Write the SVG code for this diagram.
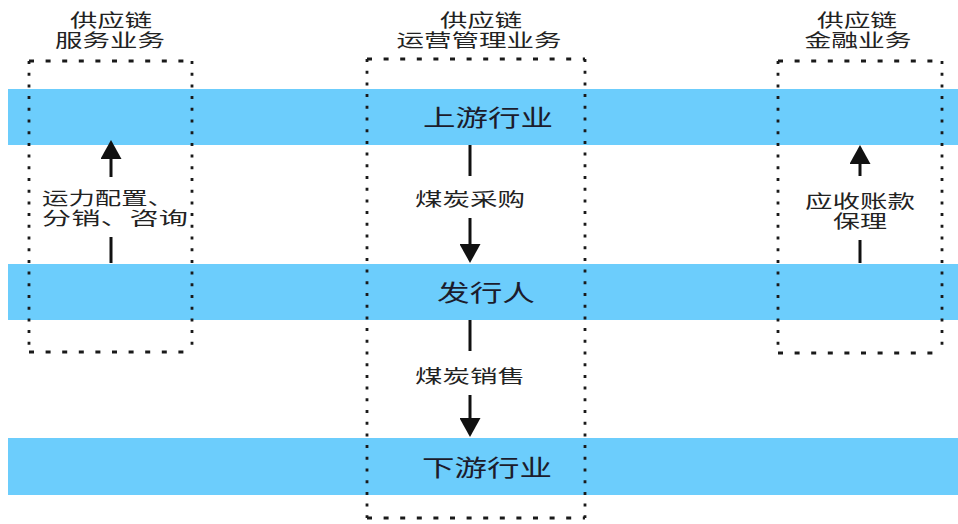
<svg xmlns="http://www.w3.org/2000/svg" width="958" height="524" viewBox="0 0 958 524">
  <style>
    .band { fill: #6ccdfc; }
    .frame { fill: none; stroke: #1a1a1a; stroke-width: 2.8; }
    .h { stroke-dasharray: 5 11.6; }
    .v { stroke-dasharray: 3 8.7; }
    .t { font-family: "Noto Sans CJK SC", "Noto Sans", sans-serif; fill: #222; }
    .title { font-size: 18px; }
    .bandtxt { font-size: 23px; fill: #1c1c2c; }
    .lbl { font-size: 18px; }
    .conn { stroke: #111; stroke-width: 3; fill: none; }
  </style>
  <defs>
    <marker id="head" viewBox="0 0 19 21" refX="0" refY="10.5" markerWidth="19" markerHeight="21" orient="auto" markerUnits="userSpaceOnUse">
      <path d="M0,0 L19,10.5 L0,21 z" fill="#111"/>
    </marker>
  </defs>

  <rect width="958" height="524" fill="#ffffff"/>

  <!-- bands -->
  <g id="upstream">
    <rect class="band" x="8" y="89" width="950" height="56"/>
    <text class="t bandtxt" x="488" y="126" text-anchor="middle" textLength="130" lengthAdjust="spacingAndGlyphs">上游行业</text>
  </g>
  <g id="issuer">
    <rect class="band" x="8" y="264" width="950" height="56"/>
    <text class="t bandtxt" x="486" y="301" text-anchor="middle" textLength="98" lengthAdjust="spacingAndGlyphs">发行人</text>
  </g>
  <g id="downstream">
    <rect class="band" x="8" y="438" width="950" height="57"/>
    <text class="t bandtxt" x="487" y="476" text-anchor="middle" textLength="130" lengthAdjust="spacingAndGlyphs">下游行业</text>
  </g>

  <!-- business boxes -->
  <g id="service-box">
    <line class="frame h" x1="29" y1="61" x2="192" y2="61"/>
    <line class="frame h" x1="29" y1="352" x2="192" y2="352"/>
    <line class="frame v" x1="29" y1="61" x2="29" y2="352"/>
    <line class="frame v" x1="192" y1="61" x2="192" y2="352"/>
    <text class="t title" x="111" y="27" text-anchor="middle" textLength="82" lengthAdjust="spacingAndGlyphs">供应链</text>
    <text class="t title" x="110" y="47" text-anchor="middle" textLength="110" lengthAdjust="spacingAndGlyphs">服务业务</text>
  </g>
  <g id="operation-box">
    <line class="frame h" x1="367" y1="59" x2="585" y2="59"/>
    <line class="frame h" x1="367" y1="518" x2="585" y2="518"/>
    <line class="frame v" x1="367" y1="59" x2="367" y2="518"/>
    <line class="frame v" x1="585" y1="59" x2="585" y2="518"/>
    <text class="t title" x="481" y="27" text-anchor="middle" textLength="82" lengthAdjust="spacingAndGlyphs">供应链</text>
    <text class="t title" x="479" y="47" text-anchor="middle" textLength="165" lengthAdjust="spacingAndGlyphs">运营管理业务</text>
  </g>
  <g id="finance-box">
    <line class="frame h" x1="778" y1="61" x2="942" y2="61"/>
    <line class="frame h" x1="778" y1="353" x2="942" y2="353"/>
    <line class="frame v" x1="778" y1="61" x2="778" y2="353"/>
    <line class="frame v" x1="942" y1="61" x2="942" y2="353"/>
    <text class="t title" x="857" y="27" text-anchor="middle" textLength="80" lengthAdjust="spacingAndGlyphs">供应链</text>
    <text class="t title" x="858" y="47" text-anchor="middle" textLength="107" lengthAdjust="spacingAndGlyphs">金融业务</text>
  </g>

  <!-- connectors -->
  <g id="connectors">
    <g id="conn-service">
      <line class="conn" x1="111" y1="263" x2="111" y2="237"/>
      <line class="conn" x1="111" y1="177" x2="111" y2="159" marker-end="url(#head)"/>
      <text class="t lbl" x="42" y="205" textLength="132" lengthAdjust="spacingAndGlyphs">运力配置、</text>
      <text class="t lbl" x="42" y="225" textLength="146" lengthAdjust="spacingAndGlyphs">分销、咨询</text>
    </g>
    <g id="conn-purchase">
      <line class="conn" x1="470" y1="145" x2="470" y2="176"/>
      <line class="conn" x1="470" y1="218" x2="470" y2="244" marker-end="url(#head)"/>
      <text class="t lbl" x="470" y="206" text-anchor="middle" textLength="110" lengthAdjust="spacingAndGlyphs">煤炭采购</text>
    </g>
    <g id="conn-sales">
      <line class="conn" x1="470" y1="320" x2="470" y2="351"/>
      <line class="conn" x1="470" y1="395" x2="470" y2="418" marker-end="url(#head)"/>
      <text class="t lbl" x="470" y="383" text-anchor="middle" textLength="110" lengthAdjust="spacingAndGlyphs">煤炭销售</text>
    </g>
    <g id="conn-factoring">
      <line class="conn" x1="860" y1="263" x2="860" y2="240"/>
      <line class="conn" x1="860" y1="176" x2="860" y2="164" marker-end="url(#head)"/>
      <text class="t lbl" x="860" y="208" text-anchor="middle" textLength="110" lengthAdjust="spacingAndGlyphs">应收账款</text>
      <text class="t lbl" x="860" y="228" text-anchor="middle" textLength="54" lengthAdjust="spacingAndGlyphs">保理</text>
    </g>
  </g>
</svg>
